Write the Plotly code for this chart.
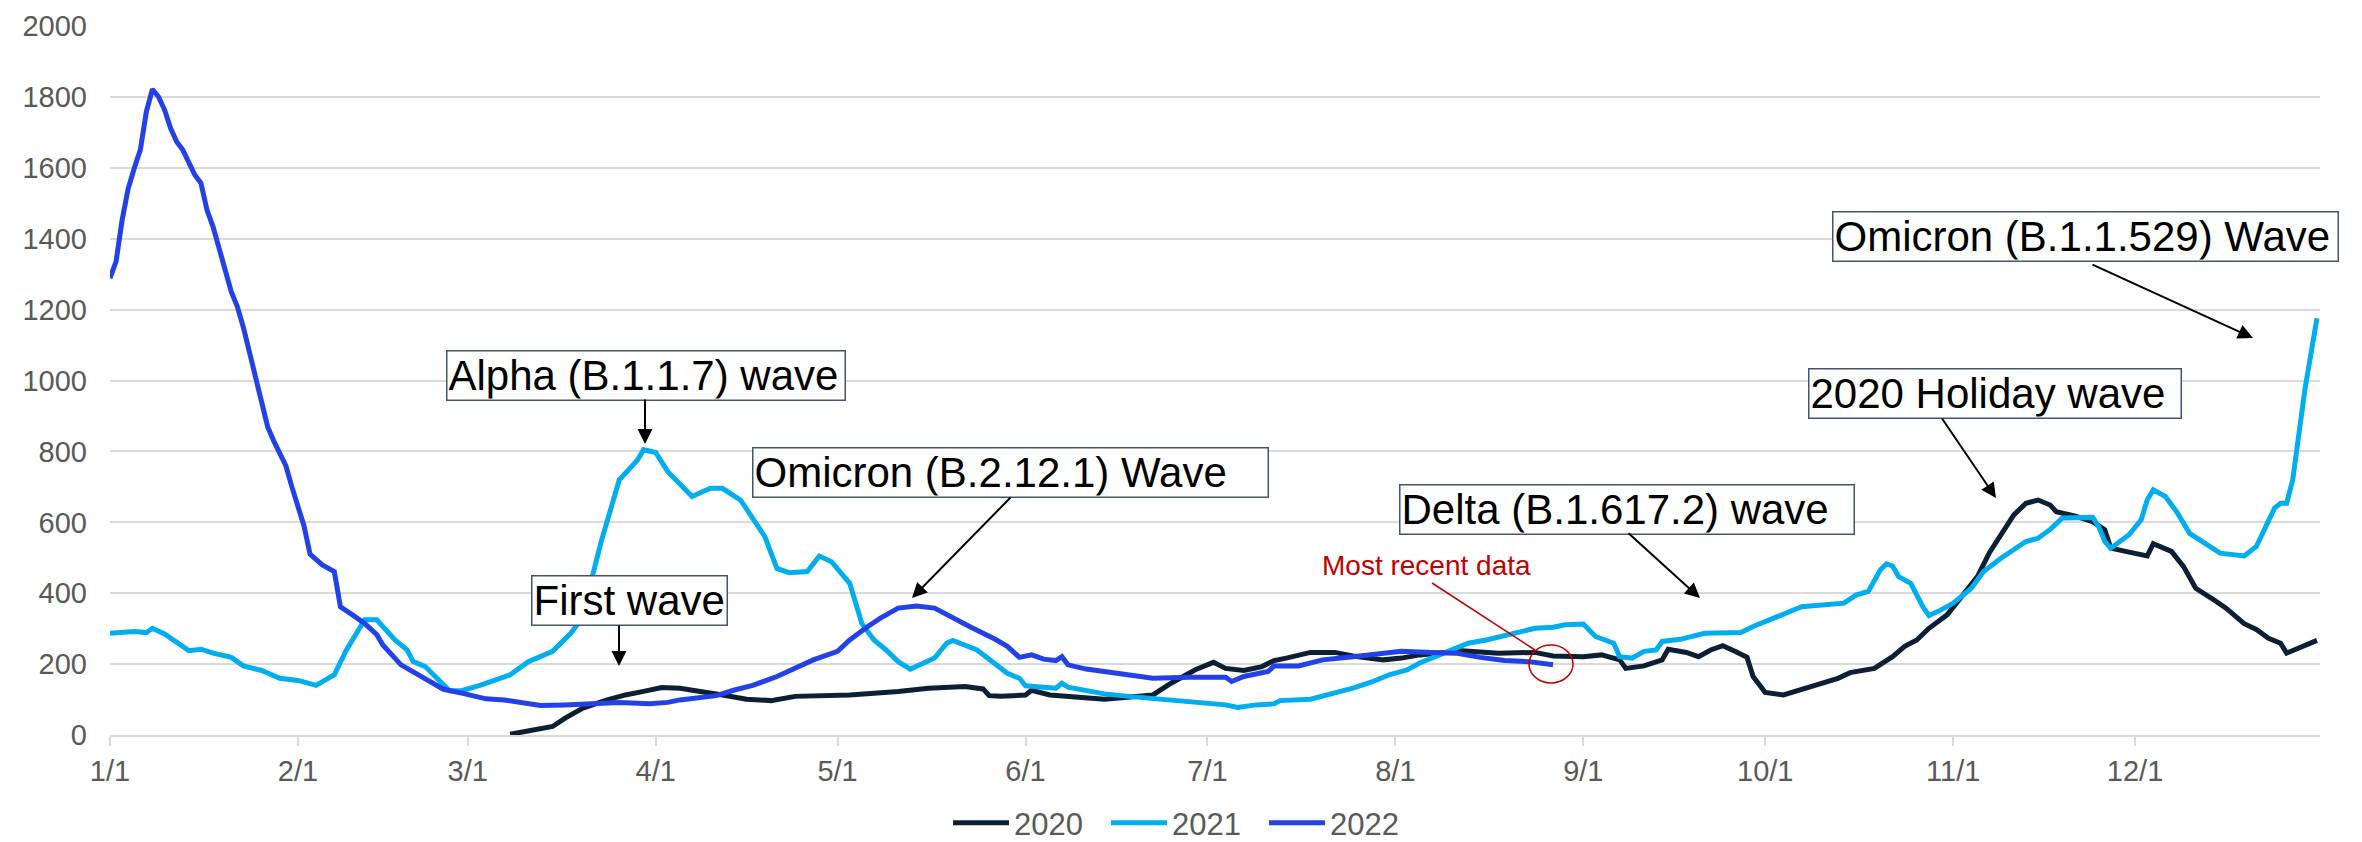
import pandas as pd
import plotly.graph_objects as go

# ---------------- data (day offset from Jan 1, value) ----------------
days_2020 = [66, 69, 73, 75, 78, 82, 85, 88, 91, 94, 98, 101, 105, 109, 113, 122, 130, 135, 141, 144,
             145, 147, 151, 152, 155, 159, 164, 172, 175, 179, 182, 184, 187, 190, 192, 194, 198, 202,
             205, 210, 213, 216, 223, 229, 235, 238, 243, 246, 249, 250, 253, 256, 257, 260, 262, 264,
             266, 268, 270, 271, 273, 276, 278, 282, 285, 287, 291, 294, 296, 298, 300, 303, 305, 308,
             310, 312, 314, 316, 318, 320, 321, 324, 327, 329, 330, 333, 336, 337, 340, 342, 344, 347,
             349, 352, 354, 356, 358, 359, 361, 364]
vals_2020 = [2, 10, 24, 47, 76, 99, 113, 123, 134, 132, 123, 113, 101, 97, 109, 113, 123, 132, 137, 130,
             111, 109, 113, 126, 113, 107, 101, 113, 146, 184, 205, 188, 182, 193, 210, 217, 233, 233,
             223, 212, 217, 226, 238, 231, 233, 223, 221, 226, 212, 188, 195, 212, 242, 233, 221, 240,
             252, 236, 219, 165, 120, 113, 123, 146, 160, 176, 188, 221, 250, 268, 301, 339, 381, 447,
             515, 569, 621, 654, 663, 649, 630, 618, 602, 579, 527, 516, 505, 540, 518, 475, 414, 381,
             358, 314, 298, 273, 259, 231, 245, 267]

days_2021 = [0, 4, 6, 7, 9, 12, 13, 15, 17, 20, 22, 25, 28, 31, 34, 37, 39, 41, 42, 44, 47, 49, 50, 52,
             54, 56, 58, 61, 66, 69, 73, 76, 78, 79, 81, 84, 86, 87, 88, 90, 92, 94, 96, 99, 101, 104,
             106, 108, 110, 112, 115, 117, 119, 122, 124, 126, 128, 130, 132, 136, 138, 139, 143, 146,
             148, 150, 151, 156, 157, 158, 160, 164, 168, 177, 181, 184, 186, 189, 192, 193, 198, 201,
             205, 208, 211, 214, 216, 220, 224, 227, 232, 235, 238, 240, 243, 245, 248, 249, 251, 253,
             255, 256, 259, 263, 269, 271, 275, 279, 286, 288, 290, 292, 293, 294, 295, 297, 299, 300,
             302, 304, 307, 309, 312, 316, 318, 320, 322, 327, 328, 329, 330, 333, 335, 336, 337, 339,
             341, 343, 346, 348, 352, 354, 357, 358, 359, 360, 362, 364]
vals_2021 = [287, 292, 289, 301, 285, 252, 238, 242, 231, 219, 195, 182, 160, 154, 140, 170, 240, 297,
             325, 325, 268, 240, 207, 193, 160, 125, 125, 140, 170, 207, 236, 287, 334, 410, 545, 720,
             757, 776, 805, 797, 743, 710, 673, 696, 696, 663, 612, 560, 470, 458, 461, 505, 489, 428,
             315, 268, 240, 207, 186, 217, 259, 267, 240, 203, 174, 160, 139, 132, 146, 135, 129, 116,
             109, 94, 90, 85, 78, 85, 88, 97, 101, 113, 132, 149, 170, 184, 203, 231, 259, 268, 287,
             301, 304, 311, 313, 278, 259, 221, 217, 236, 240, 264, 270, 287, 289, 306, 334, 362, 372,
             395, 405, 466, 483, 477, 447, 428, 362, 337, 353, 372, 414, 461, 500, 546, 555, 580, 612,
             614, 588, 546, 527, 565, 607, 663, 692, 673, 626, 569, 536, 513, 505, 532, 640, 654, 654,
             720, 974, 1176]

days_2022 = [0, 1, 2, 3, 4, 5, 6, 7, 8, 9, 10, 11, 12, 13, 14, 15, 16, 17, 18, 19, 20, 21, 22, 23, 24,
             25, 26, 27, 28, 29, 30, 31, 32, 33, 35, 37, 38, 40, 42, 44, 45, 48, 50, 52, 55, 58, 62, 65,
             68, 71, 75, 80, 84, 89, 92, 94, 97, 100, 103, 106, 110, 113, 116, 120, 122, 125, 127, 130,
             133, 136, 139, 142, 146, 148, 150, 152, 154, 156, 157, 158, 161, 166, 172, 178, 184, 185,
             187, 191, 192, 196, 200, 205, 209, 213, 218, 222, 226, 230, 234, 238]
vals_2022 = [1289, 1336, 1453, 1542, 1599, 1651, 1759, 1822, 1801, 1764, 1712, 1674, 1651, 1613, 1580,
             1557, 1481, 1434, 1378, 1312, 1251, 1209, 1150, 1080, 1000, 930, 870, 830, 795, 760, 700,
             650, 590, 510, 480, 461, 362, 339, 315, 283, 254, 198, 179, 156, 129, 118, 102, 99, 92, 83,
             85, 88, 92, 88, 92, 99, 104, 111, 127, 140, 165, 190, 212, 236, 268, 306, 329, 358, 364,
             358, 329, 304, 270, 250, 219, 226, 214, 210, 221, 198, 186, 174, 160, 163, 163, 151, 165,
             179, 195, 195, 212, 221, 228, 236, 233, 231, 219, 210, 207, 198]

series_names = ["2020", "2021", "2022"]
series_colors = ["#0C1F35", "#00AEEF", "#2341E6"]

y_ticks = [0, 200, 400, 600, 800, 1000, 1200, 1400, 1600, 1800, 2000]

wave_labels = ["Alpha (B.1.1.7) wave", "Omicron (B.2.12.1) Wave", "First wave",
               "Delta (B.1.617.2) wave", "2020 Holiday wave", "Omicron (B.1.1.529) Wave"]
recent_label = "Most recent data"

# ---------------- figure ----------------
W, H = 2362, 842
L, R, T, B = 102, 50, 18, 115
PW, PH = W - L - R, H - T - B
FONT = "Liberation Sans, Arial, sans-serif"

# annotation placement measured relative to a plot box whose left edge is at 110 and bottom at 729
REF_L, REF_BOTTOM = 110, 729


def px(x):
    return (x - REF_L) / PW


def py(y):
    return (REF_BOTTOM - y) / PH


base = pd.Timestamp("2021-01-01")


def to_dates(days):
    return base + pd.to_timedelta(days, unit="D")


fig = go.Figure()
for name, d, v, c in zip(series_names, [days_2020, days_2021, days_2022],
                         [vals_2020, vals_2021, vals_2022], series_colors):
    fig.add_trace(go.Scatter(x=to_dates(d), y=v, name=name, mode="lines",
                             line=dict(color=c, width=5)))

annotations = []
boxes = [(446, 344, 399), (752, 441, 516), (531, 569, 196),
         (1399, 478, 455), (1808, 362, 373), (1832, 205, 506)]
for text, (bx, by, bw) in zip(wave_labels, boxes):
    annotations.append(dict(xref="paper", yref="paper", x=px(bx), y=py(by),
                            xanchor="left", yanchor="top", text=text, showarrow=False,
                            font=dict(size=42, color="black", family=FONT),
                            bgcolor="white", bordercolor="#44546A", borderwidth=1.5,
                            borderpad=1, width=bw - 4, height=46, align="left"))

arrows = [((645, 392), (645, 438)), ((1012, 490), (912, 592)), ((619, 618), (619, 660)),
          ((1627, 526), (1700, 592)), ((1941, 411), (1996, 492)), ((2091, 258), (2253, 332))]
for (tx, ty), (hx, hy) in arrows:
    annotations.append(dict(xref="paper", yref="paper", x=px(hx), y=py(hy),
                            ax=tx - hx, ay=ty - hy, axref="pixel", ayref="pixel",
                            text="", showarrow=True, arrowhead=2, arrowsize=1.5,
                            arrowwidth=2, arrowcolor="black", standoff=0))

annotations.append(dict(xref="paper", yref="paper", x=px(1426), y=py(559), text=recent_label,
                        showarrow=False, xanchor="center", yanchor="middle",
                        font=dict(size=28, color="#C00000", family=FONT)))

shapes = [
    dict(type="line", xref="paper", yref="paper", x0=px(1432), y0=py(577), x1=px(1535), y1=py(644),
         line=dict(color="#C00000", width=1.5)),
    dict(type="circle", xref="paper", yref="paper", x0=px(1529), x1=px(1573), y0=py(639), y1=py(677),
         line=dict(color="#C00000", width=1.5)),
]

fig.update_layout(
    width=W, height=H,
    margin=dict(l=L, r=R, t=T, b=B, autoexpand=False),
    paper_bgcolor="white", plot_bgcolor="white",
    font=dict(family=FONT, color="#595959", size=29),
    showlegend=True,
    legend=dict(orientation="h", xref="container", yref="container", x=940 / W, y=0.0,
                xanchor="left", yanchor="bottom", font=dict(size=31, color="#595959"),
                itemwidth=56, entrywidth=87, entrywidthmode="pixels",
                bgcolor="rgba(0,0,0,0)"),
    annotations=annotations,
    shapes=shapes,
)

fig.update_xaxes(type="date", range=[base, base + pd.Timedelta(days=364.5)],
                 tickformat="%-m/%-d", dtick="M1", tick0=base,
                 showgrid=False, showline=True, linecolor="#D9D9D9", linewidth=1.8,
                 ticks="outside", ticklen=9, tickwidth=1.5, tickcolor="#D9D9D9",
                 tickfont=dict(size=29, color="#595959"), ticklabelstandoff=0,
                 zeroline=False, automargin=False)
fig.update_yaxes(range=[0, 2000.5], tickvals=y_ticks, showgrid=True, gridcolor="#D9D9D9",
                 gridwidth=1.8, zeroline=False, showline=False, ticks="",
                 tickfont=dict(size=29, color="#595959"), ticklabelstandoff=22,
                 ticklabeloverflow="allow", automargin=False)

fig.write_html("out.html")
